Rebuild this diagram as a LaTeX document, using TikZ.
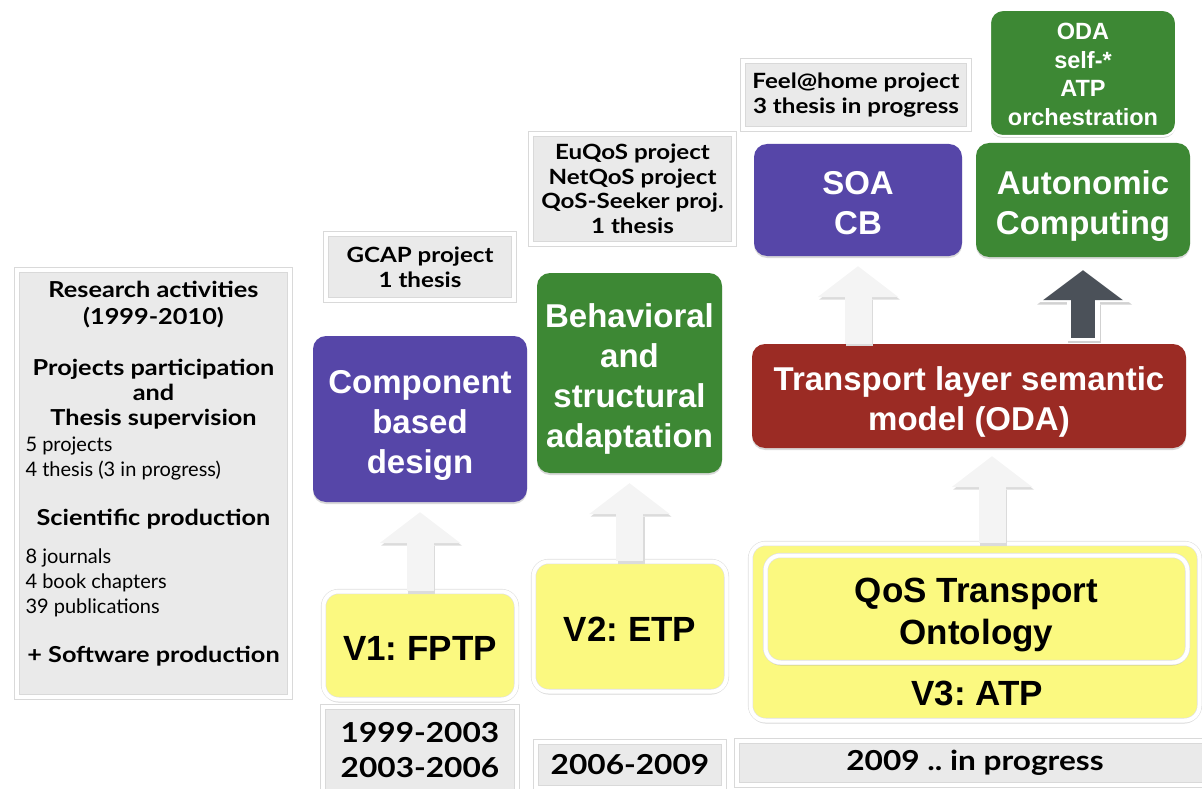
\documentclass[tikz,border=0pt]{standalone}
\usepackage{fontspec}
\setmainfont{Liberation Sans}
\newfontfamily\gillfont{Lato}[BoldFeatures={FakeStretch=1.15}]
\frenchspacing
\usetikzlibrary{arrows.meta,positioning,calc,shadows}
\definecolor{cbpurple}{HTML}{5646A8}
\definecolor{adgreen}{HTML}{3D8834}
\definecolor{odared}{HTML}{9B2B24}
\definecolor{tpyellow}{HTML}{FBF980}
\definecolor{notegray}{HTML}{EAEAEA}
\definecolor{arrowgray}{HTML}{F4F4F4}
\definecolor{arrowdark}{HTML}{4B5159}
\newcommand\topstrut{\rule{0pt}{36pt}}
\newcommand\botstrut{\rule[-7pt]{0pt}{0pt}}
\tikzset{
  colbox/.style={rounded corners=13pt, align=center, text=white, inner sep=0pt,
    font=\fontsize{33}{40}\selectfont\bfseries,
    drop shadow={shadow xshift=0pt, shadow yshift=-2pt, opacity=0.3}},
  purplebox/.style={colbox, fill=cbpurple},
  greenbox/.style={colbox, fill=adgreen},
  redbox/.style={colbox, fill=odared},
  yellowbox/.style={rounded corners=15pt, fill=tpyellow, draw=black!12, double=white,
    double distance=4pt, line width=0.6pt, align=center, inner sep=0pt,
    font=\fontsize{35}{42}\selectfont\bfseries,
    drop shadow={shadow xshift=0pt, shadow yshift=-3pt, opacity=0.3}},
  notebox/.style={fill=notegray, draw=black!15, double=white, double distance=4pt,
    line width=0.6pt, align=center, inner sep=0pt,
    font=\gillfont\fontsize{21}{25}\selectfont\bfseries,
    drop shadow={shadow xshift=0pt, shadow yshift=-3pt, opacity=0.3}},
  yearbox/.style={notebox, font=\gillfont\fontsize{27.5}{35}\selectfont\bfseries},
  paneltext/.style={font=\gillfont\fontsize{22}{25}\selectfont\bfseries, anchor=base},
  panelitem/.style={font=\gillfont\fontsize{20}{25}\selectfont, anchor=base west},
  liftarr/.style={line width=27pt, draw=arrowgray,
    -{Triangle[length=31pt,width=81pt,line width=0pt]}},
  liftshadow/.style={line width=27pt, draw=black!14,
    -{Triangle[length=31pt,width=81pt,line width=0pt]},
    transform canvas={xshift=1.5pt, yshift=-2.5pt}},
  darkout/.style={line width=33pt, draw=white,
    -{Triangle[length=38pt,width=95pt,line width=0pt]}},
  darkarr/.style={line width=24pt, draw=arrowdark,
    -{Triangle[length=30pt,width=80pt,line width=0pt]}}
}
\begin{document}
\begin{tikzpicture}[x=1pt,y=-1pt]
  \useasboundingbox (0,0) rectangle (1202,789);

  % summary panel
  \node[notebox, minimum width=273, minimum height=427] (panel) at (153.5,483.5) {};
  \foreach \yy/\txt in {297/Research activities, 324/(1999-2010), 375/Projects participation,
      400/and, 425/Thesis supervision, 525/Scientific production, 662/+ Software production}
    \node[paneltext] (head-\yy) at (153.5,\yy) {\txt};
  \foreach \yy/\txt in {451/5 projects, 476/4 thesis (3 in progress), 563/8 journals,
      588/4 book chapters, 613/39 publications}
    \node[panelitem] (item-\yy) at (22,\yy) {\txt};

  % transport protocols
  \node[yellowbox, minimum width=193, minimum height=108] (v1) at (420,645.5)
    {\topstrut V1: FPTP\botstrut};
  \node[yellowbox, minimum width=193, minimum height=130] (v2) at (630,626.5)
    {\topstrut V2: ETP\botstrut};
  \node[yellowbox, minimum width=449, minimum height=177] (v3) at (975,632) {};
  \node[font=\fontsize{35}{42}\selectfont\bfseries] (v3lbl) at (977,693) {V3: ATP};
  \node[yellowbox, minimum width=422, minimum height=107] (qos) at (976.5,609)
    {\topstrut QoS Transport\\Ontology\botstrut};

  % research topics
  \node[purplebox, minimum width=214, minimum height=166] (cbd) at (420,419)
    {\topstrut Component\\based\\design\botstrut};
  \node[greenbox, minimum width=185, minimum height=200] (bsa) at (629.5,373)
    {\topstrut Behavioral\\and\\structural\\adaptation\botstrut};
  \node[redbox, minimum width=434, minimum height=104] (odm) at (969,396)
    {\topstrut Transport layer semantic\\model (ODA)\botstrut};
  \node[purplebox, minimum width=208, minimum height=112] (soa) at (858,200)
    {\topstrut SOA\\CB\botstrut};
  \node[greenbox, minimum width=214, minimum height=114] (ac) at (1083,200)
    {\topstrut Autonomic\\Computing\botstrut};
  \node[greenbox, draw=white, line width=2pt, minimum width=186, minimum height=126,
    font=\fontsize{23.5}{28.5}\selectfont\bfseries] (oda) at (1083,73)
    {\rule{0pt}{19pt}ODA\\self-*\\ATP\\orchestration};

  % projects and theses
  \node[notebox, minimum width=188, minimum height=66] (gcap) at (420,267)
    {GCAP project\\1 thesis};
  \node[notebox, minimum width=203, minimum height=110,
    font=\gillfont\fontsize{21}{24.5}\selectfont\bfseries] (euqos) at (632.5,189)
    {EuQoS project\\NetQoS project\\QoS-Seeker proj.\\1 thesis};
  \node[notebox, minimum width=226, minimum height=68] (feel) at (856,95)
    {Feel@home project\\3 thesis in progress};

  % periods
  \node[yearbox, minimum width=194, minimum height=86] (y1) at (420,750)
    {1999-2003\\2003-2006};
  \node[yearbox, minimum width=188, minimum height=46] (y2) at (630,765) {2006-2009};
  \node[yearbox, minimum width=476, minimum height=44] (y3) at (975,763)
    {2009 .. in progress};

  % lift arrows
  \foreach \a/\b in {v1/cbd, v2/bsa, odm/soa} {
    \draw[liftshadow] (\a.north -| \b.south) -- ([yshift=-10pt]\b.south);
    \draw[liftarr] (\a.north -| \b.south) -- ([yshift=-10pt]\b.south);
  }
  \draw[liftshadow] ($(v3.north)+(17,0)$) -- ($(odm.south)+(23,8)$);
  \draw[liftarr] ($(v3.north)+(17,0)$) -- ($(odm.south)+(23,8)$);
  \draw[darkout, draw=black!18, transform canvas={xshift=1.5pt, yshift=-2.5pt}]
    ([yshift=3pt]odm.north -| ac.south) -- ([yshift=-7pt]ac.south);
  \draw[darkout] ([yshift=3pt]odm.north -| ac.south) -- ([yshift=-7pt]ac.south);
  \draw[darkarr] ([yshift=6pt]odm.north -| ac.south) -- ([yshift=-13pt]ac.south);
\end{tikzpicture}
\end{document}
